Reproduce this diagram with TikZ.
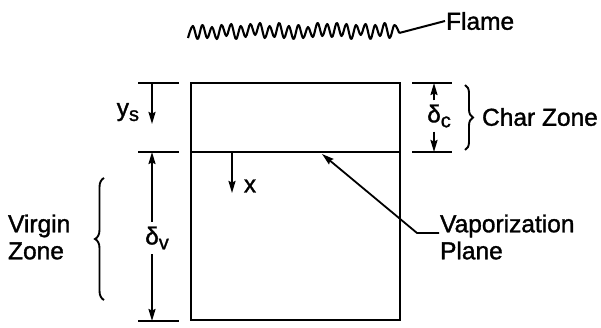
\documentclass[tikz,border=0pt]{standalone}
\usepackage{fontspec}
\setmainfont{Liberation Sans}[RawFeature={embolden=1.3}]
\usetikzlibrary{arrows.meta,decorations.pathreplacing}
\newcommand\lowsub[1]{\rlap{\raisebox{-0.38ex}{\fontsize{20}{20}\selectfont #1}}}
\begin{document}
\begin{tikzpicture}[x=1pt,y=-1pt,line width=2.2pt,
  lbl/.style={font=\fontsize{24.5}{27}\selectfont,inner sep=0pt,align=left},
  arr/.style={-{Stealth[length=12pt,width=7pt,inset=1.5pt]},line width=1.8pt},
  tickln/.style={line width=2pt},
  brc/.style={decorate,decoration={brace,amplitude=9pt},line width=1.9pt}]
\useasboundingbox (0,0) rectangle (601,328);
% box
\coordinate (tl) at (191,83);
\coordinate (br) at (400,320);
\coordinate (vl) at (191,152);
\coordinate (vr) at (400,152);
\draw (tl) rectangle (br);
\draw (vl) -- (vr);
% flame
\draw[line width=2.1pt,line join=round] plot[smooth,tension=0.6] coordinates {
(188,38) (192.8,26) (197.6,39) (202.4,25) (207.2,38) (212,27) (216.8,39) (221.6,25)
(226.4,36) (231.2,24) (236,39) (240.8,26) (245.6,37) (250.4,24) (255.2,35) (260,23)
(264.8,38) (269.6,26) (274.4,37) (279.2,23) (284,38) (288.8,26) (293.6,39) (298.4,25)
(303.2,38) (308,27) (312.8,37) (317.6,23) (322.4,36) (327.2,24) (332,37) (336.8,23)
(341.6,36) (346.4,24) (351.2,39) (356,25) (360.8,35) (365.6,24) (370.4,39) (375.2,25)
(380,36) (384.8,23) (389.6,38) (394.4,25) (399.2,33)} coordinate (fl);
\node[lbl,anchor=west] (flame) at (445,21) {Flame};
\draw[tickln] (fl) -- (flame.west);
% left ticks
\coordinate (la1) at (138,83);  \coordinate (lb1) at (179,83);
\coordinate (la2) at (138,152); \coordinate (lb2) at (179,152);
\coordinate (la3) at (138,321); \coordinate (lb3) at (179,321);
\draw[tickln] (la1) -- (lb1);
\draw[tickln] (la2) -- (lb2);
\draw[tickln] (la3) -- (lb3);
% y_s
\coordinate (ys0) at (152,83);
\coordinate (ys1) at (152,124);
\draw[arr] (ys0) -- (ys1);
\node[lbl] (ys) at (129,112) {y\lowsub{s}\phantom{s}};
% delta_v
\node[lbl] (dv) at (152,238) {δ\lowsub{v}};
\coordinate (dvt) at (152,152);
\coordinate (dvb) at (152,321);
\draw[arr] (dv.north) ++(0,-4) -- (dvt);
\draw[arr] (dv.south) ++(0,4) -- (dvb);
% virgin zone brace
\coordinate (vb1) at (104,300);
\coordinate (vb2) at (104,178);
\draw[brc] (vb1) -- (vb2);
\node[lbl,anchor=west] (vz) at (7,237) {Virgin\\Zone};
% x arrow
\coordinate (x0) at (232,152);
\coordinate (x1) at (232,193);
\draw[arr] (x0) -- (x1);
\node[lbl] (xl) at (250,186) {x};
% right ticks
\coordinate (ra1) at (412,83);  \coordinate (rb1) at (452,83);
\coordinate (ra2) at (412,152); \coordinate (rb2) at (452,152);
\draw[tickln] (ra1) -- (rb1);
\draw[tickln] (ra2) -- (rb2);
% delta_c
\node[lbl] (dc) at (434,116) {δ\lowsub{c}};
\coordinate (dct) at (434,83);
\coordinate (dcb) at (434,152);
\draw[arr] (dc.north) ++(0,-3) -- (dct);
\draw[arr] (dc.south) ++(0,3) -- (dcb);
% char zone brace
\coordinate (cb1) at (465,85);
\coordinate (cb2) at (465,150);
\draw[brc,decoration={amplitude=8pt}] (cb1) -- (cb2);
\node[lbl,anchor=west] (cz) at (481,117) {Char Zone};
% vaporization plane
\node[lbl,anchor=west] (vp) at (439,237) {Vaporization\\Plane};
\coordinate (vk) at (417,233);
\coordinate (vt) at (322,154);
\draw[arr] (vp.west |- vk) -- (vk) -- (vt);
\end{tikzpicture}
\end{document}
